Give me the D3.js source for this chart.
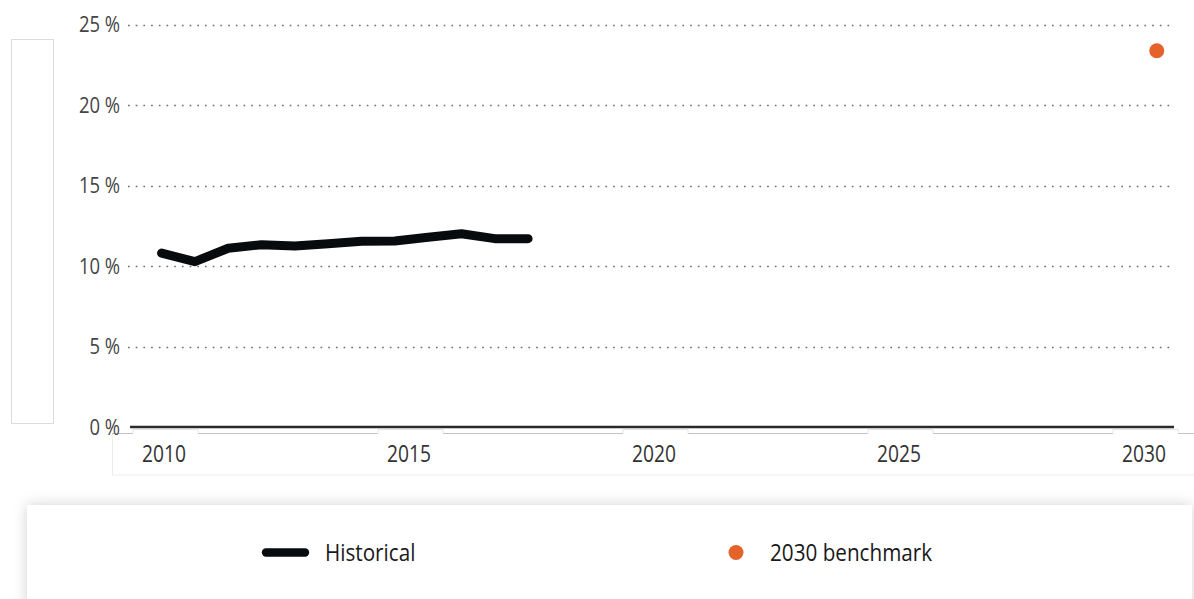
<!DOCTYPE html>
<html>
<head>
<meta charset="utf-8">
<script src="https://cdn.jsdelivr.net/npm/d3@7"></script>
<style>
  html, body { margin: 0; padding: 0; background: #fff; }
  svg { display: block; font-family: "Open Sans", sans-serif; }
</style>
</head>
<body>
<svg id="chart" width="1194" height="599"></svg>
<script>
// ---- data ----
const histYears  = [2009.92, 2010.6, 2011.28, 2011.96, 2012.64, 2013.32, 2014.0, 2014.68, 2015.36, 2016.04, 2016.72, 2017.4];
const histValues = [10.8, 10.27, 11.1, 11.32, 11.24, 11.38, 11.54, 11.55, 11.78, 12.0, 11.7, 11.7];
const benchYears  = [2030.23];
const benchValues = [23.37];
const xTicks = [2010, 2015, 2020, 2025, 2030];
const yTicks = [0, 5, 10, 15, 20, 25];
const seriesNames = ["Historical", "2030 benchmark"];
const seriesColors = ["#070b0d", "#e5622a"];

// ---- layout ----
const svg = d3.select("#chart");
const x = d3.scaleLinear().domain([2010, 2030]).range([165.5, 1145.5]);
const y = d3.scaleLinear().domain([0, 25]).range([427, 24.5]);
const plotLeft = 128, plotRight = 1172;

const defs = svg.append("defs");
const f = defs.append("filter").attr("id", "shadow")
  .attr("x", "-5%").attr("y", "-40%").attr("width", "110%").attr("height", "180%");
f.append("feDropShadow").attr("dx", 0).attr("dy", 0).attr("stdDeviation", 7)
  .attr("flood-color", "#000").attr("flood-opacity", 0.18);

// left placeholder box
svg.append("rect").attr("x", 11.5).attr("y", 39.5).attr("width", 42).attr("height", 384)
  .attr("fill", "none").attr("stroke", "#dcdcdc");

// x-axis band box
svg.append("rect").attr("x", 112.5).attr("y", 433.5).attr("width", 1090).attr("height", 41.5)
  .attr("fill", "#fff").attr("stroke", "#ececec");
svg.append("line").attr("x1", 112).attr("x2", 1194).attr("y1", 433.5).attr("y2", 433.5)
  .attr("stroke", "#c4c4c4").attr("stroke-width", 1.2);

// tabs behind x labels
const tabW = 65;
const tabs = svg.append("g");
tabs.selectAll("rect").data(xTicks).join("rect")
  .attr("x", d => x(d) - tabW / 2).attr("y", 430).attr("width", tabW).attr("height", 6)
  .attr("fill", "#fff");
tabs.selectAll("path").data(xTicks).join("path")
  .attr("d", d => `M${x(d) - tabW / 2},433.5V429.5H${x(d) + tabW / 2}V433.5`)
  .attr("fill", "none").attr("stroke", "#e4e4e4");

// y axis labels
const yAxis = d3.axisLeft(y).tickValues(yTicks).tickSize(0).tickPadding(0)
  .tickFormat(d => d + "\u2005%");
const gy = svg.append("g").attr("transform", `translate(${plotLeft},0)`).call(yAxis);
gy.select(".domain").remove();
gy.selectAll(".tick line").remove();
gy.selectAll(".tick text")
  .attr("x", 0).attr("dy", "0.33em")
  .attr("text-anchor", "end")
  .attr("transform", "translate(-8,0) scale(0.84,1)")
  .attr("fill", "#444").attr("font-size", 22).attr("font-family", "Open Sans, sans-serif");

// grid lines
svg.append("g").selectAll("line").data(yTicks.filter(d => d > 0)).join("line")
  .attr("x1", plotLeft).attr("x2", plotRight)
  .attr("y1", d => Math.round(y(d)) + 0.5).attr("y2", d => Math.round(y(d)) + 0.5)
  .attr("stroke", "#6f6f6f").attr("stroke-width", 1.7).attr("stroke-dasharray", "1.7,6");

// zero axis line
svg.append("line").attr("x1", 130).attr("x2", 1174).attr("y1", y(0)).attr("y2", y(0))
  .attr("stroke", "#2a2a2a").attr("stroke-width", 2.4);

// x axis labels
const xAxis = d3.axisBottom(x).tickValues(xTicks).tickSize(0).tickFormat(d3.format("d"));
const gx = svg.append("g").attr("transform", "translate(0,445)").call(xAxis);
gx.select(".domain").remove();
gx.selectAll(".tick text")
  .attr("y", 0).attr("dy", "0.72em")
  .attr("transform", "translate(-2,0) scale(0.8,1)")
  .attr("fill", "#333").attr("font-size", 24).attr("font-family", "Open Sans, sans-serif");

// historical line
const line = d3.line().x((d, i) => x(histYears[i])).y(d => y(d)).curve(d3.curveLinear);
svg.append("path").datum(histValues)
  .attr("d", line).attr("fill", "none")
  .attr("stroke", seriesColors[0]).attr("stroke-width", 9)
  .attr("stroke-linecap", "round").attr("stroke-linejoin", "round");

// benchmark point
svg.append("g").selectAll("circle").data(benchValues).join("circle")
  .attr("cx", (d, i) => x(benchYears[i])).attr("cy", d => y(d)).attr("r", 7.5)
  .attr("fill", seriesColors[1]);

// legend box
svg.append("rect").attr("x", 27).attr("y", 505).attr("width", 1165).attr("height", 120)
  .attr("fill", "#fff").attr("filter", "url(#shadow)");

const lg = svg.append("g");
lg.append("line").attr("x1", 266).attr("x2", 305).attr("y1", 552.5).attr("y2", 552.5)
  .attr("stroke", seriesColors[0]).attr("stroke-width", 8.4).attr("stroke-linecap", "round");
lg.append("circle").attr("cx", 736).attr("cy", 552.5).attr("r", 7.5).attr("fill", seriesColors[1]);
const legendX = [325, 770];
lg.selectAll("text").data(seriesNames).join("text")
  .attr("transform", (d, i) => `translate(${legendX[i]},552.5) scale(0.88,1)`)
  .attr("dy", "0.35em")
  .attr("font-size", 23.5).attr("fill", "#1a1a1a")
  .text(d => d);
</script>
</body>
</html>
